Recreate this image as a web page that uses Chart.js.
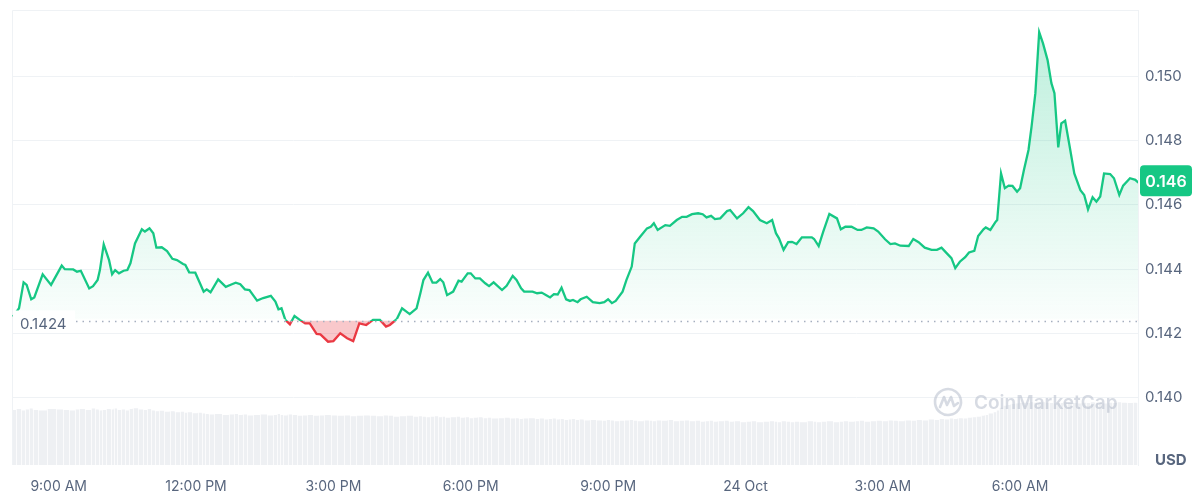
<!DOCTYPE html>
<html><head><meta charset="utf-8">
<script src="https://cdn.jsdelivr.net/npm/chart.js@4.4.1/dist/chart.umd.min.js"></script>
<style>html,body{margin:0;padding:0;background:#fff;}#wrap{width:1200px;height:494px;position:relative;}</style>
</head><body><div id="wrap"><canvas id="c" width="1200" height="494"></canvas></div>
<script>
// minutes after 08:00 AM (23 Oct)
const timeMinutes = [
0,8,14,18,24,28,39,50,64,68,79,84,89,100,105,111,114,119,126,130,
134,139,145,150,154,160,169,173,179,184,188,195,202,209,215,223,226,231,239,245,
250,254,259,269,279,287,292,298,304,310,320,328,338,344,348,352,357,363,369,376,
383,389,398,403,413,420,429,438,446,454,463,472,481,489,494,503,510,520,529,534,
538,544,550,555,560,564,569,577,584,588,596,600,606,612,619,624,630,641,647,655,
660,666,670,681,687,693,699,704,709,714,719,725,730,734,740,744,752,760,769,775,
780,785,790,799,804,811,815,822,831,836,840,845,855,861,870,877,883,890,898,904,
909,915,920,927,936,940,949,957,964,970,979,988,995,1000,1004,1010,1016,1021,1027,1034,
1047,1050,1056,1062,1070,1080,1085,1091,1099,1107,1112,1119,1128,1134,1143,1150,1156,1163,1174,1180,
1187,1195,1204,1211,1217,1224,1230,1235,1241,1248,1253,1260,1265,1272,1275,1281,1288,1290,1295,1300,
1305,1310,1316,1320,1325,1331,1335,1340,1345,1350,1356,1361,1365,1370,1374,1379,1385,1391,1399,1404,
1409,1415,1420,1425,1430,1438,1443,1450,1455,1464,1471,1475
];
const prices = [
0.14252,0.14278,0.14359,0.14351,0.14306,0.14312,0.14384,0.14351,0.14411,0.14400,
0.14399,0.14392,0.14395,0.14340,0.14347,0.14366,0.14397,0.14477,0.14428,0.14384,
0.14397,0.14387,0.14395,0.14397,0.14418,0.14480,0.14524,0.14517,0.14527,0.14512,
0.14467,0.14468,0.14456,0.14432,0.14428,0.14416,0.14413,0.14390,0.14389,0.14357,
0.14330,0.14337,0.14328,0.14368,0.14345,0.14353,0.14358,0.14353,0.14337,0.14335,
0.14302,0.14310,0.14317,0.14299,0.14275,0.14278,0.14242,0.14228,0.14254,0.14242,
0.14231,0.14231,0.14198,0.14197,0.14174,0.14176,0.14200,0.14185,0.14176,0.14231,
0.14226,0.14242,0.14242,0.14221,0.14226,0.14244,0.14278,0.14260,0.14278,0.14325,
0.14366,0.14389,0.14358,0.14358,0.14369,0.14359,0.14319,0.14330,0.14364,0.14361,
0.14387,0.14387,0.14371,0.14371,0.14356,0.14347,0.14359,0.14335,0.14348,0.14379,
0.14366,0.14340,0.14330,0.14330,0.14325,0.14327,0.14319,0.14312,0.14322,0.14321,
0.14342,0.14306,0.14301,0.14304,0.14297,0.14306,0.14314,0.14297,0.14294,0.14297,
0.14306,0.14294,0.14301,0.14330,0.14366,0.14408,0.14480,0.14501,0.14527,0.14532,
0.14543,0.14522,0.14537,0.14535,0.14553,0.14563,0.14563,0.14571,0.14574,0.14571,
0.14561,0.14566,0.14556,0.14558,0.14581,0.14584,0.14558,0.14574,0.14593,0.14581,
0.14553,0.14543,0.14553,0.14512,0.14496,0.14460,0.14484,0.14485,0.14478,0.14499,
0.14499,0.14494,0.14472,0.14517,0.14572,0.14558,0.14524,0.14532,0.14532,0.14522,
0.14522,0.14530,0.14527,0.14517,0.14493,0.14478,0.14480,0.14473,0.14472,0.14494,
0.14484,0.14467,0.14460,0.14460,0.14467,0.14449,0.14434,0.14403,0.14423,0.14437,
0.14452,0.14457,0.14503,0.14524,0.14530,0.14522,0.14548,0.14553,0.14698,0.14652,
0.14660,0.14659,0.14641,0.14652,0.14709,0.14771,0.14844,0.14948,0.15138,0.15103,
0.15051,0.14979,0.14948,0.14779,0.14854,0.14862,0.14781,0.14698,0.14646,0.14631,
0.14586,0.14624,0.14610,0.14626,0.14698,0.14696,0.14683,0.14631,0.14660,0.14683,
0.14678,0.14669
];
// relative volume (0-100 scale of the hidden volume axis)
const volumes = [
12.1,12.3,12.0,12.2,12.4,12.1,12.0,12.3,12.2,12.1,12.0,12.2,12.3,12.1,12.4,12.2,12.0,12.1,12.3,12.2,
12.4,12.1,12.2,12.0,12.3,12.5,12.2,12.1,12.3,12.0,11.8,11.9,11.7,11.8,11.6,11.7,11.5,11.6,11.4,11.5,
11.3,11.2,11.1,11.2,11.0,11.1,11.2,11.0,11.1,10.9,11.0,11.1,10.9,11.0,11.2,11.0,10.9,11.1,11.0,10.8,
10.9,11.0,10.8,10.9,11.0,10.9,10.8,10.9,10.7,10.8,10.9,10.8,10.7,10.9,10.8,10.6,10.7,10.8,10.6,10.7,
10.6,10.5,10.6,10.7,10.5,10.6,10.4,10.5,10.6,10.4,10.5,10.3,10.4,10.5,10.3,10.4,10.2,10.3,10.4,10.2,
10.3,10.1,10.2,10.3,10.1,10.2,10.0,10.1,10.2,10.0,10.1,9.9,10.0,10.1,9.9,10.0,9.8,9.9,
9.8,9.7,9.9,9.8,9.6,9.7,9.8,9.9,9.7,9.6,9.8,9.7,9.6,9.8,9.7,9.9,9.6,9.7,9.8,9.6,
9.7,9.5,9.6,9.7,9.5,9.6,9.7,9.5,9.6,9.4,9.5,9.6,9.4,9.5,9.6,9.5,9.4,9.6,9.5,9.4,
9.5,9.4,9.6,9.5,9.4,9.5,9.6,9.4,9.5,9.6,9.5,9.6,9.7,9.5,9.6,9.7,9.6,9.8,9.7,9.6,
9.8,9.7,9.9,9.8,10.0,9.9,10.1,10.0,10.2,10.1,10.3,10.2,10.4,10.5,
10.6,10.8,11.0,11.3,11.6,12.0,12.6,13.0,13.2,13.4,13.5,13.6,13.7,13.6,13.8,13.7,13.6,13.8,13.7,13.6,
13.5,13.7,13.6,13.8,13.7,13.6,13.5,13.7,13.6,13.8,13.7,13.6,13.5,13.7,13.6,13.8,13.7,13.6,13.7,13.6
];
const baselinePrice = 0.1424;
const yTickValues = [0.140, 0.142, 0.144, 0.146, 0.148, 0.150];
const xTickMinutes = [60, 240, 420, 600, 780, 960, 1140, 1320];
const xTickLabels = ['9:00 AM','12:00 PM','3:00 PM','6:00 PM','9:00 PM','24 Oct','3:00 AM','6:00 AM'];
const currencyLabel = 'USD';
const watermarkText = 'CoinMarketCap';

const GREEN = '#16c784', RED = '#ea3943', TXT = '#58667e', GRID = '#eff2f5';
const FONT = 'Inter, "Noto Sans", sans-serif';

const n = Math.min(timeMinutes.length, prices.length);
const priceData = [], volData = [];
for (let i = 0; i < n; i++) priceData.push({x: timeMinutes[i], y: prices[i]});
for (let i = 0; i < Math.min(timeMinutes.length, volumes.length); i++) volData.push({x: timeMinutes[i], y: volumes[i]});
const lastPrice = prices[n - 1];

// range of the data that dips below the baseline (red part)
let firstBelow = -1, lastBelow = -1;
for (let i = 0; i < n; i++) if (prices[i] < baselinePrice) { if (firstBelow < 0) firstBelow = i; lastBelow = i; }

function baseY(chart) { return chart.scales.y.getPixelForValue(baselinePrice); }

const decor = {
  id: 'decor',
  beforeDatasetsDraw(chart) {
    const {ctx, chartArea: a} = chart;
    ctx.save();
    ctx.strokeStyle = GRID; ctx.lineWidth = 1;
    ctx.beginPath();
    ctx.moveTo(a.left + 0.5, a.bottom); ctx.lineTo(a.left + 0.5, a.top + 0.5); ctx.lineTo(a.right, a.top + 0.5);
    ctx.stroke();
    ctx.restore();
  },
  afterDatasetDraw(chart, args) {
    const {ctx, chartArea: a} = chart;
    if (args.index === 1) {
      // thin gaps between volume bars
      const xs = chart.scales.x, yv = chart.scales.yv;
      ctx.save();
      ctx.strokeStyle = 'rgba(255,255,255,0.75)'; ctx.lineWidth = 1;
      for (let i = 1; i < volData.length; i++) {
        const px = Math.round(xs.getPixelForValue((volData[i - 1].x + volData[i].x) / 2)) + 0.5;
        ctx.beginPath(); ctx.moveTo(px, a.bottom); ctx.lineTo(px, yv.getPixelForValue(Math.max(volData[i - 1].y, volData[i].y)) - 1); ctx.stroke();
      }
      ctx.restore();
    }
  },
  afterDatasetsDraw(chart) {
    const {ctx, chartArea: a} = chart;
    const by = baseY(chart);
    const xs = chart.scales.x;
    ctx.save();
    // clear the fill seam along the baseline outside the red dip, then dotted baseline
    ctx.strokeStyle = '#ffffff'; ctx.lineWidth = 2.5;
    ctx.beginPath();
    if (firstBelow > 0) {
      ctx.moveTo(a.left + 1, by); ctx.lineTo(xs.getPixelForValue(priceData[firstBelow - 1].x), by);
      ctx.moveTo(xs.getPixelForValue(priceData[Math.min(n - 1, lastBelow + 1)].x), by); ctx.lineTo(a.right - 1, by);
    } else {
      ctx.moveTo(a.left + 1, by); ctx.lineTo(a.right - 1, by);
    }
    ctx.stroke();
    const byl = Math.round(by) + 0.5;
    ctx.strokeStyle = '#a6afc0'; ctx.lineWidth = 1.3; ctx.setLineDash([1.5, 5]);
    ctx.beginPath(); ctx.moveTo(a.left + 64, byl); ctx.lineTo(a.right, byl); ctx.stroke();
    ctx.setLineDash([]);
    // baseline label
    ctx.fillStyle = '#fff';
    ctx.fillRect(a.left + 1, by - 10, 62, 21);
    ctx.fillStyle = TXT; ctx.font = '15px ' + FONT; ctx.textBaseline = 'middle'; ctx.textAlign = 'left';
    ctx.fillText(baselinePrice.toFixed(4), a.left + 8, by + 4);
    // watermark
    const wx = a.right - 190, wy = a.bottom - 63;
    ctx.strokeStyle = 'rgba(175,184,200,0.5)'; ctx.fillStyle = 'rgba(175,184,200,0.5)';
    ctx.lineWidth = 2.6; ctx.lineCap = 'round'; ctx.lineJoin = 'round';
    ctx.beginPath(); ctx.arc(wx, wy, 13, 0.2 * Math.PI, 2.45 * Math.PI, false); ctx.stroke();
    ctx.beginPath();
    ctx.moveTo(wx - 8, wy + 5); ctx.lineTo(wx - 4, wy - 5); ctx.lineTo(wx - 1, wy + 3);
    ctx.lineTo(wx + 3, wy - 5); ctx.lineTo(wx + 6, wy + 4); ctx.lineTo(wx + 10, wy + 1);
    ctx.stroke();
    ctx.font = '600 19px ' + FONT; ctx.textBaseline = 'middle';
    ctx.fillText(watermarkText, wx + 26, wy + 1);
    // price tag
    const py = chart.scales.y.getPixelForValue(lastPrice);
    const tx = a.right + 2, tw = 52, th = 31;
    ctx.fillStyle = GREEN;
    ctx.beginPath(); ctx.roundRect(tx, py - th / 2 - 2, tw, th, 4); ctx.fill();
    ctx.fillStyle = '#fff'; ctx.font = '600 16px ' + FONT; ctx.textAlign = 'center';
    ctx.fillText((Math.floor(lastPrice * 1000) / 1000).toFixed(3), tx + tw / 2, py - 1);
    // currency
    ctx.fillStyle = TXT; ctx.font = '700 15px ' + FONT; ctx.textAlign = 'left';
    ctx.fillText(currencyLabel, a.right + 17, a.bottom - 5);
    ctx.restore();
  }
};

new Chart(document.getElementById('c'), {
  type: 'line',
  data: {
    datasets: [
      {
        data: priceData, yAxisID: 'y', order: 0,
        borderWidth: 2.3, pointRadius: 0, tension: 0,
        borderColor(ctx) {
          const ch = ctx.chart, a = ch.chartArea;
          if (!a) return GREEN;
          const g = ch.ctx.createLinearGradient(0, a.top, 0, a.bottom);
          const r = Math.min(1, Math.max(0, (baseY(ch) - a.top) / (a.bottom - a.top)));
          g.addColorStop(0, GREEN); g.addColorStop(r, GREEN); g.addColorStop(r, RED); g.addColorStop(1, RED);
          return g;
        },
        backgroundColor(ctx) {
          const ch = ctx.chart, a = ch.chartArea;
          if (!a) return 'rgba(22,199,132,0.1)';
          const g = ch.ctx.createLinearGradient(0, a.top, 0, baseY(ch));
          g.addColorStop(0, 'rgba(22,199,132,0.30)'); g.addColorStop(1, 'rgba(22,199,132,0.02)');
          return g;
        },
        fill: {target: {value: baselinePrice}, below: 'rgba(234,57,67,0.28)'}
      },
      {
        data: volData, yAxisID: 'yv', order: 1,
        stepped: 'middle', borderWidth: 0, pointRadius: 0,
        backgroundColor: '#eef0f3', fill: 'origin'
      }
    ]
  },
  options: {
    responsive: false, animation: false,
    layout: {padding: {left: 12, top: 10, right: 0, bottom: 0}},
    plugins: {legend: {display: false}, tooltip: {enabled: false}},
    scales: {
      x: {
        type: 'linear', min: -1.2, max: 1474.5,
        grid: {display: false, drawTicks: false}, border: {display: false},
        ticks: {color: TXT, font: {family: FONT, size: 14}, padding: 13, maxRotation: 0, autoSkip: false,
          callback(v) { const i = xTickMinutes.indexOf(v); return i >= 0 ? xTickLabels[i] : ''; }},
        afterBuildTicks(ax) { ax.ticks = xTickMinutes.map(v => ({value: v})); },
        afterFit(ax) { ax.height = 29; }
      },
      y: {
        position: 'right', min: 0.13790, max: 0.15207,
        grid: {color: GRID, drawTicks: true, tickLength: 7, tickColor: 'rgba(0,0,0,0)'}, border: {display: true, color: GRID},
        ticks: {color: TXT, font: {family: FONT, size: 15}, padding: 0, callback(v) { return v.toFixed(3); }},
        afterBuildTicks(ax) { ax.ticks = yTickValues.map(v => ({value: v})); },
        afterFit(ax) { ax.width = 62; }
      },
      yv: {display: false, min: 0, max: 100}
    }
  },
  plugins: [decor]
});
</script></body></html>
